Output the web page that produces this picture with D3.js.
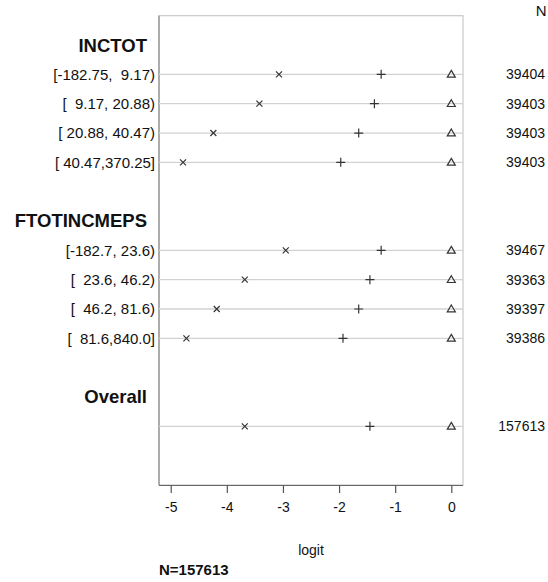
<!DOCTYPE html>
<html>
<head>
<meta charset="utf-8">
<script src="https://cdn.jsdelivr.net/npm/d3@7"></script>
<style>
  body { margin: 0; background: #fff; }
  svg { font-family: "Liberation Sans", Arial, sans-serif; }
  text { white-space: pre; }
</style>
</head>
<body>
<div id="chart"></div>
<script>
const groupNames = ['INCTOT', 'FTOTINCMEPS', 'Overall'];
const rowGroup = [0, 0, 0, 0, 1, 1, 1, 1, 2];
const rowLabels = [
  '[-182.75,  9.17)', '[  9.17, 20.88)', '[ 20.88, 40.47)', '[ 40.47,370.25]',
  '[-182.7, 23.6)', '[  23.6, 46.2)', '[  46.2, 81.6)', '[  81.6,840.0]',
  '',
];
const crossValues = [-3.07, -3.42, -4.24, -4.78, -2.95, -3.68, -4.18, -4.72, -3.68];
const plusValues = [-1.25, -1.37, -1.65, -1.97, -1.25, -1.45, -1.65, -1.93, -1.45];
const triangleValues = [0, 0, 0, 0, 0, 0, 0, 0, 0];
const counts = [39404, 39403, 39403, 39403, 39467, 39363, 39397, 39386, 157613];
const xTicks = [-5, -4, -3, -2, -1, 0];
const totalN = 157613;

const width = 548;
const height = 582;
const plot = { left: 159, right: 463, top: 15.7, bottom: 485 };

const svg = d3.select('#chart')
  .append('svg')
  .attr('width', width)
  .attr('height', height);

// slot layout: header, rows, blank line between groups
const headerSlots = [];
const rowSlots = [];
let slot = 1;
rowGroup.forEach((g, i) => {
  if (i === 0 || rowGroup[i - 1] !== g) {
    if (i > 0) slot += 1;
    headerSlots.push({ name: groupNames[g], slot });
    slot += 1;
  }
  rowSlots.push(slot);
  slot += 1;
});

const x = d3.scaleLinear([-5, 0], [170.7, 451.3]);
const y = d3.scaleLinear([0, 16], [plot.top, plot.bottom]);

const rows = rowLabels.map((label, i) => ({
  label,
  slot: rowSlots[i],
  cross: crossValues[i],
  plus: plusValues[i],
  tri: triangleValues[i],
  n: counts[i],
}));

// frame
svg.append('rect')
  .attr('x', plot.left)
  .attr('y', plot.top)
  .attr('width', plot.right - plot.left)
  .attr('height', plot.bottom - plot.top)
  .attr('fill', 'none')
  .attr('stroke', '#c8c8c8')
  .attr('stroke-width', 1.2);

svg.append('line')
  .attr('x1', plot.left).attr('x2', plot.left)
  .attr('y1', plot.top).attr('y2', plot.bottom)
  .attr('stroke', '#8a8a8a')
  .attr('stroke-width', 1.2);

// row reference lines
svg.append('g')
  .selectAll('line')
  .data(rows)
  .join('line')
  .attr('x1', plot.left)
  .attr('x2', plot.right)
  .attr('y1', (d) => y(d.slot))
  .attr('y2', (d) => y(d.slot))
  .attr('stroke', '#d2d2d2')
  .attr('stroke-width', 1.3);

// x axis
const xAxis = svg.append('g')
  .attr('transform', `translate(0,${plot.bottom})`)
  .call(d3.axisBottom(x).tickValues(xTicks).tickSize(8).tickPadding(9).tickFormat(d3.format('d')));
xAxis.select('.domain')
  .attr('d', `M${plot.left},0.5H${plot.right}`)
  .attr('stroke', '#666')
  .attr('stroke-width', 1.2);
xAxis.selectAll('.tick line').attr('stroke', '#555').attr('stroke-width', 1.2);
xAxis.selectAll('.tick text')
  .attr('font-size', 14)
  .attr('font-family', '"Liberation Sans", Arial, sans-serif')
  .attr('fill', '#111')
  .text((d) => (d < 0 ? '-' + Math.abs(d) : d));

svg.append('text')
  .attr('x', (plot.left + plot.right) / 2)
  .attr('y', 555)
  .attr('text-anchor', 'middle')
  .attr('font-size', 14)
  .attr('fill', '#111')
  .text('logit');

svg.append('text')
  .attr('x', plot.left)
  .attr('y', 574.5)
  .attr('font-size', 15)
  .attr('font-weight', 'bold')
  .attr('fill', '#111')
  .text(`N=${totalN}`);

// group headers
svg.append('g')
  .selectAll('text')
  .data(headerSlots)
  .join('text')
  .attr('x', 147)
  .attr('y', (d) => y(d.slot))
  .attr('dy', '0.35em')
  .attr('text-anchor', 'end')
  .attr('font-size', 18.5)
  .attr('font-weight', 'bold')
  .attr('fill', '#111')
  .text((d) => d.name);

// row labels
svg.append('g')
  .selectAll('text')
  .data(rows)
  .join('text')
  .attr('x', 155)
  .attr('y', (d) => y(d.slot))
  .attr('dy', '0.35em')
  .attr('text-anchor', 'end')
  .attr('font-size', 15)
  .attr('fill', '#111')
  .text((d) => d.label);

// N column
svg.append('text')
  .attr('x', 546.5)
  .attr('y', 11)
  .attr('dy', '0.35em')
  .attr('text-anchor', 'end')
  .attr('font-size', 15)
  .attr('fill', '#111')
  .text('N');

svg.append('g')
  .selectAll('text')
  .data(rows)
  .join('text')
  .attr('x', 545)
  .attr('y', (d) => y(d.slot))
  .attr('dy', '0.35em')
  .attr('text-anchor', 'end')
  .attr('font-size', 14)
  .attr('fill', '#111')
  .text((d) => d.n);

// markers
const markerColor = '#333';
const marks = svg.append('g')
  .attr('fill', 'none')
  .attr('stroke', markerColor)
  .attr('stroke-width', 1.2);

marks.selectAll('path.cross')
  .data(rows)
  .join('path')
  .attr('class', 'cross')
  .attr('transform', (d) => `translate(${x(d.cross)},${y(d.slot)})`)
  .attr('d', 'M-3,-3L3,3M-3,3L3,-3');

marks.selectAll('path.plus')
  .data(rows)
  .join('path')
  .attr('class', 'plus')
  .attr('transform', (d) => `translate(${x(d.plus)},${y(d.slot)})`)
  .attr('d', 'M-4.5,0H4.5M0,-4.5V4.5');

marks.selectAll('path.tri')
  .data(rows)
  .join('path')
  .attr('class', 'tri')
  .attr('transform', (d) => `translate(${x(d.tri)},${y(d.slot)})`)
  .attr('d', 'M0,-4L4,2.8H-4Z');
</script>
</body>
</html>
